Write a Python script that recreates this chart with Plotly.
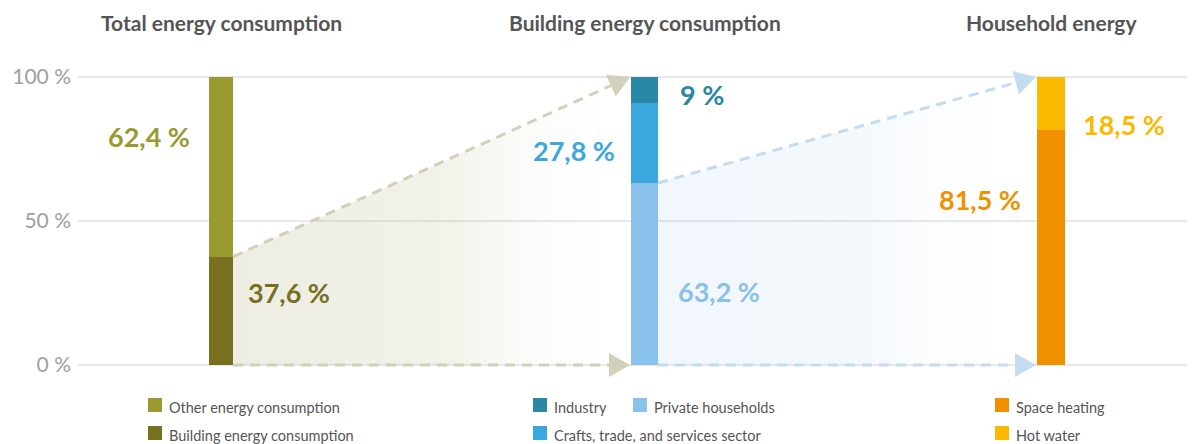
import math
import plotly.graph_objects as go

# ---------------- data ----------------
titles = ["Total energy consumption", "Building energy consumption", "Household energy"]
total_names = ["Building energy consumption", "Other energy consumption"]
total_values = [37.6, 62.4]
total_colors = ["#76701f", "#9a9a30"]

building_names = ["Private households", "Crafts, trade, and services sector", "Industry"]
building_values = [63.2, 27.8, 9.0]
building_colors = ["#88c2ea", "#3aa8de", "#2a87a5"]

household_names = ["Space heating", "Hot water"]
household_values = [81.5, 18.5]
household_colors = ["#f29100", "#fbb900"]

y_ticks = [0, 50, 100]
y_tick_labels = ["0 %", "50 %", "100 %"]

# ---------------- layout geometry ----------------
OFF = 8                     # page body margin
SW, SH = 1195, 444          # screen size
W, H = SW - OFF, SH - OFF   # figure size
PLOT_L, PLOT_T, PLOT_B = 78, 60, 380   # plot area in screen px
ML, MT, MR = PLOT_L - OFF, PLOT_T - OFF, 0
MB = H - (PLOT_B - OFF)
PX_PER_Y = 2.88
Y0_PX = 365
Y_MAX = (Y0_PX - PLOT_T) / PX_PER_Y
Y_MIN = -(PLOT_B - Y0_PX) / PX_PER_Y

def py_to_y(py):
    return (Y0_PX - py) / PX_PER_Y

def py_to_paper(py):
    return (PLOT_B - py) / (PLOT_B - PLOT_T)

centers = [221, 644.5, 1051]
widths = [24, 27, 28]

FONT = "Lato"

fig = go.Figure()

def lefts(i):
    return centers[i] - widths[i] / 2

def rights(i):
    return centers[i] + widths[i] / 2

# gradient flow areas
def flow(i_from, y_from, i_to, c0, c1):
    xa, xb = rights(i_from), lefts(i_to)
    fig.add_trace(go.Scatter(
        x=[xa, xa, xb, xb, xa], y=[0, y_from, 100, 0, 0],
        mode="lines", line=dict(width=0), fill="toself",
        fillgradient=dict(type="horizontal",
                          colorscale=[[0, c0], [0.55, c1], [1, "rgba(255,255,255,0)"]]),
        hoverinfo="skip", showlegend=False))

flow(0, total_values[0], 1, "rgba(175,170,120,0.21)", "rgba(175,170,120,0.15)")
flow(1, building_values[0], 2, "rgba(150,195,235,0.14)", "rgba(150,195,235,0.10)")

# stacked bars
def stack(i, names, values, colors):
    base = 0
    for n, v, c in zip(names, values, colors):
        fig.add_trace(go.Bar(
            x=[centers[i]], y=[v], base=[base], width=[widths[i]],
            marker=dict(color=c, line=dict(width=0)), name=n,
            showlegend=False, hoverinfo="name+y"))
        base += v

stack(0, total_names, total_values, total_colors)
stack(1, building_names, building_values, building_colors)
stack(2, household_names, household_values, household_colors)

# dashed arrows
def arrow(x_from, y_from, x_to, y_to, col):
    px0, py0 = x_from, -y_from * PX_PER_Y
    px1, py1 = x_to, -y_to * PX_PER_Y
    dx, dy = px1 - px0, py1 - py0
    L = math.hypot(dx, dy)
    ux, uy = dx / L, dy / L
    hl, hw = 21, 12
    bx, by = px1 - hl * ux, py1 - hl * uy
    nx, ny = -uy, ux
    c1 = (bx + hw * nx, by + hw * ny)
    c2 = (bx - hw * nx, by - hw * ny)
    fig.add_trace(go.Scatter(
        x=[px0, bx], y=[-py0 / PX_PER_Y, -by / PX_PER_Y], mode="lines",
        line=dict(color=col, width=3, dash="10px,7px"),
        hoverinfo="skip", showlegend=False))
    path = "M {} {} L {} {} L {} {} Z".format(
        px1, -py1 / PX_PER_Y, c1[0], -c1[1] / PX_PER_Y, c2[0], -c2[1] / PX_PER_Y)
    fig.add_shape(type="path", path=path, xref="x", yref="y",
                  fillcolor=col, line=dict(width=0), layer="above")

olive_arrow = "#d2d0b8"
blue_arrow = "#c3dcf1"
arrow(rights(0), total_values[0], lefts(1) - 1, 100, olive_arrow)
arrow(rights(0), 0, lefts(1) - 1, 0, olive_arrow)
arrow(rights(1), building_values[0], lefts(2) - 1, 100, blue_arrow)
arrow(rights(1), 0, lefts(2) - 1, 0, blue_arrow)

# value labels
def fmt(v):
    s = ("%.1f" % v).replace(".", ",")
    if s.endswith(",0"):
        s = s[:-2]
    return s + " %"

def label(x, py, text, color, anchor):
    fig.add_annotation(x=x, y=py_to_y(py), xref="x", yref="y", text="<b>%s</b>" % text,
                       showarrow=False, xanchor=anchor, yanchor="middle",
                       font=dict(family=FONT, size=27, color=color))

label(106, 136, fmt(total_values[1]), total_colors[1], "left")
label(246, 292, fmt(total_values[0]), total_colors[0], "left")
label(617, 150, fmt(building_values[1]), building_colors[1], "right")
label(678, 94, fmt(building_values[2]), building_colors[2], "left")
label(676, 291, fmt(building_values[0]), building_colors[0], "left")
label(1023, 199, fmt(household_values[0]), household_colors[0], "right")
label(1081, 124, fmt(household_values[1]), household_colors[1], "left")

# column titles
for c, t in zip(centers, titles):
    fig.add_annotation(x=c, y=py_to_paper(23), xref="x", yref="paper",
                       text="<b>%s</b>" % t, showarrow=False,
                       xanchor="center", yanchor="middle",
                       font=dict(family=FONT, size=21, color="#555555"))

# manual legend
legend_items = [
    (148, 405, total_names[1], total_colors[1]),
    (148, 433, total_names[0], total_colors[0]),
    (533, 405, building_names[2], building_colors[2]),
    (633, 405, building_names[0], building_colors[0]),
    (533, 433, building_names[1], building_colors[1]),
    (995, 405, household_names[0], household_colors[0]),
    (995, 433, household_names[1], household_colors[1]),
]
for lx, ly, name, col in legend_items:
    fig.add_shape(type="rect", xref="x", yref="paper",
                  x0=lx, x1=lx + 14, y0=py_to_paper(ly + 7), y1=py_to_paper(ly - 7),
                  fillcolor=col, line=dict(width=0))
    fig.add_annotation(x=lx + 19, y=py_to_paper(ly + 2), xref="x", yref="paper",
                       text=name, showarrow=False, xanchor="left", yanchor="middle",
                       font=dict(family=FONT, size=14.5, color="#555555"))

fig.update_layout(
    width=W, height=H,
    margin=dict(l=ML, r=MR, t=MT, b=MB, pad=0, autoexpand=False),
    plot_bgcolor="white", paper_bgcolor="white",
    barmode="overlay", bargap=0,
    xaxis=dict(range=[PLOT_L, SW], visible=False, fixedrange=True),
    yaxis=dict(range=[Y_MIN, Y_MAX], tickvals=y_ticks, ticktext=y_tick_labels,
               showgrid=True, gridcolor="#e8e8e8", gridwidth=2,
               zeroline=False, showline=False, ticks="",
               ticklabelstandoff=6,
               tickfont=dict(family=FONT, size=21, color="#a0a0a0"),
               fixedrange=True),
    showlegend=False,
)

fig.write_html("out.html")
